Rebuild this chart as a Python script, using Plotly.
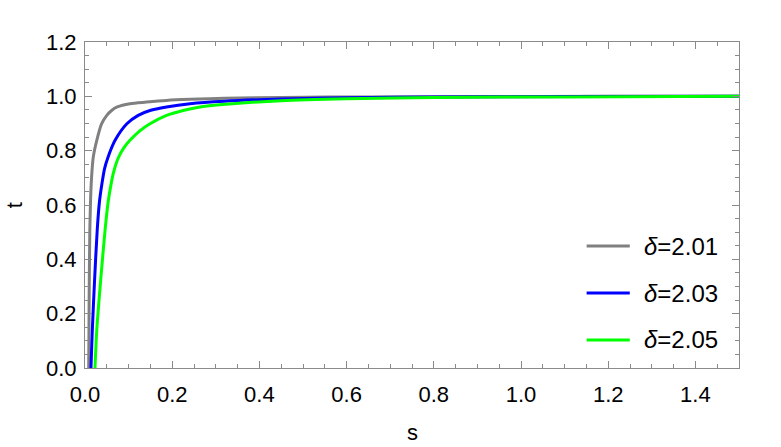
import plotly.graph_objects as go

# ---- data ----
labels = ["2.01", "2.03", "2.05"]
colors = ["#808080", "#0000ff", "#00ff00"]

gray_s = [0.0075, 0.0085, 0.0095, 0.011, 0.013, 0.015, 0.019, 0.027, 0.038, 0.050, 0.061,
          0.074, 0.103, 0.141, 0.187, 0.241, 0.32, 0.45, 0.65, 0.9, 1.2, 1.5]
gray_t = [-0.05, 0.0, 0.25, 0.5, 0.63, 0.70, 0.777, 0.838, 0.899, 0.930, 0.948,
          0.961, 0.973, 0.979, 0.985, 0.989, 0.993, 0.996, 0.998, 0.999, 1.0, 1.0]

blue_s = [0.0132, 0.0138, 0.0168, 0.022, 0.028, 0.033, 0.039, 0.045, 0.053, 0.069, 0.096,
          0.122, 0.149, 0.187, 0.241, 0.32, 0.45, 0.6, 0.8, 1.1, 1.5]
blue_t = [-0.02, 0.005, 0.14, 0.324, 0.507, 0.61, 0.68, 0.735, 0.777, 0.838, 0.899,
          0.930, 0.948, 0.961, 0.973, 0.982, 0.99, 0.995, 0.998, 0.999, 1.0]

green_s = [0.022, 0.023, 0.027, 0.036, 0.046, 0.053, 0.0596, 0.0655, 0.076, 0.089, 0.103,
           0.125, 0.149, 0.187, 0.225, 0.264, 0.33, 0.45, 0.6, 0.8, 1.1, 1.5]
green_t = [-0.03, 0.005, 0.14, 0.324, 0.507, 0.61, 0.675, 0.72, 0.772, 0.810, 0.838,
           0.872, 0.899, 0.930, 0.948, 0.961, 0.972, 0.984, 0.991, 0.996, 0.998, 1.0]

series_s = [gray_s, blue_s, green_s]
series_t = [gray_t, blue_t, green_t]

x_ticks = [0.0, 0.2, 0.4, 0.6, 0.8, 1.0, 1.2, 1.4]
y_ticks = [0.0, 0.2, 0.4, 0.6, 0.8, 1.0, 1.2]

FONT = "Liberation Sans, Arial, sans-serif"
FRAME = "#8a8a8a"

fig = go.Figure()
for s, t, c, lab in zip(series_s, series_t, colors, labels):
    fig.add_trace(go.Scatter(
        x=s, y=t, mode="lines", name=lab,
        line=dict(color=c, width=3, shape="spline", smoothing=0.8),
        showlegend=False,
    ))

# manual legend (lines + text) in paper coordinates
leg_y = [0.374, 0.230, 0.086]
for c, lab, yy in zip(colors, labels, leg_y):
    fig.add_shape(type="line", xref="paper", yref="paper",
                  x0=0.767, x1=0.833, y0=yy, y1=yy,
                  line=dict(color=c, width=3))
    fig.add_annotation(xref="paper", yref="paper", x=0.851, y=yy,
                       xanchor="left", yanchor="middle", showarrow=False,
                       text="<i>δ</i>=" + lab,
                       font=dict(family=FONT, size=24, color="black"))

# axis titles
fig.add_annotation(xref="paper", yref="paper", x=-0.108, y=0.5, textangle=-90,
                   xanchor="center", yanchor="middle", showarrow=False, text="t",
                   font=dict(family=FONT, size=22, color="black"))
fig.add_annotation(xref="paper", yref="paper", x=0.5, y=-0.198,
                   xanchor="center", yanchor="middle", showarrow=False, text="s",
                   font=dict(family=FONT, size=22, color="black"))

axis_common = dict(
    showgrid=False, zeroline=False, showline=True, linecolor=FRAME, linewidth=1.2,
    mirror="allticks", ticks="inside", ticklen=7, tickwidth=1, tickcolor=FRAME,
    tickfont=dict(family=FONT, size=22, color="black"),
    minor=dict(ticks="inside", ticklen=4, tickwidth=1, tickcolor=FRAME, dtick=0.05,
               showgrid=False),
)

fig.update_xaxes(range=[0, 1.5], tickmode="array", tickvals=x_ticks,
                 ticktext=[f"{v:.1f}" for v in x_ticks], ticklabelstandoff=6,
                 **axis_common)
fig.update_yaxes(range=[0, 1.2], tickmode="array", tickvals=y_ticks,
                 ticktext=[f"{v:.1f}" for v in y_ticks], ticklabelstandoff=3,
                 **axis_common)

fig.update_layout(
    width=781, height=447,
    margin=dict(l=85, r=42, t=42, b=79),
    paper_bgcolor="white", plot_bgcolor="white",
    font=dict(family=FONT, color="black"),
)

fig.write_html("out.html", config={"displayModeBar": False},
               post_script="document.body.style.margin='0';document.body.style.overflow='hidden';")
